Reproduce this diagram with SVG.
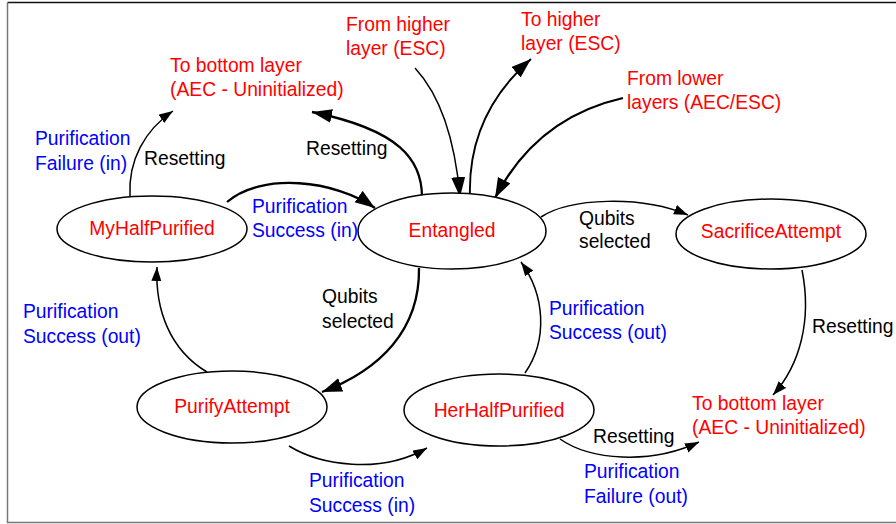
<svg xmlns="http://www.w3.org/2000/svg" width="896" height="524" viewBox="0 0 896 524">
  <style>
    text { font-family: "Liberation Sans", Arial, sans-serif; font-size: 19.3px; }
    .state { fill: #ffffff; stroke: #000000; stroke-width: 1.5; }
    .name { fill: #ff0000; text-anchor: middle; }
    .red { fill: #ff0000; }
    .blue { fill: #0000ff; }
    .black { fill: #000000; }
    .edge { fill: none; stroke: #000000; stroke-width: 1.5; }
    .thick { stroke-width: 2.3; }
    .mid { stroke-width: 1.9; }
    .big { marker-end: url(#headBig); }
    .small { marker-end: url(#headSmall); }
  </style>
  <defs>
    <marker id="headBig" markerUnits="userSpaceOnUse" markerWidth="22" markerHeight="16" refX="20" refY="7" orient="auto">
      <path d="M0,0 L20,7 L0,14 Z" fill="#000000"/>
    </marker>
    <marker id="headSmall" markerUnits="userSpaceOnUse" markerWidth="16" markerHeight="12" refX="14" refY="5" orient="auto">
      <path d="M0,0 L14,5 L0,10 Z" fill="#000000"/>
    </marker>
  </defs>

  <!-- frame -->
  <path d="M896,2.5 H7.5" fill="none" stroke="#111111" stroke-width="1.5"/>
  <path d="M7.5,2.5 V522.5 H896" fill="none" stroke="#777777" stroke-width="1.5"/>

  <!-- transitions -->
  <g id="connectors">
    <path class="edge small" d="M130,196 C128,160 145,130 173,111"/>
    <path class="edge thick big" d="M422,197 C422,160 400,130 312,112"/>
    <path class="edge thick big" d="M227,202 C262,172 335,180 375,208"/>
    <path class="edge big" d="M415,68 C440,95 455,140 460,197"/>
    <path class="edge mid big" d="M470,197 C468,140 490,95 531,59"/>
    <path class="edge thick big" d="M623,98 C570,110 525,140 495,198"/>
    <path class="edge small" d="M541,217 C570,198 640,195 688,215"/>
    <path class="edge thick big" d="M419,268 C420,330 380,370 322,392"/>
    <path class="edge small" d="M207,372 C170,350 155,310 157,267"/>
    <path class="edge small" d="M289,446 C320,465 380,475 427,448"/>
    <path class="edge small" d="M525,373 C548,340 545,295 521,262"/>
    <path class="edge small" d="M802,270 C812,320 800,365 773,395"/>
    <path class="edge small" d="M560,439 C590,460 650,465 699,442"/>
  </g>

  <!-- states -->
  <g id="myHalfPurified">
    <ellipse class="state" cx="152" cy="229" rx="95" ry="33"/>
    <text class="name" x="152" y="235">MyHalfPurified</text>
  </g>
  <g id="entangled">
    <ellipse class="state" cx="452" cy="231" rx="94" ry="38"/>
    <text class="name" x="452" y="237">Entangled</text>
  </g>
  <g id="sacrificeAttempt">
    <ellipse class="state" cx="771" cy="234" rx="95" ry="35"/>
    <text class="name" x="771" y="238">SacrificeAttempt</text>
  </g>
  <g id="purifyAttempt">
    <ellipse class="state" cx="232" cy="407" rx="95" ry="36"/>
    <text class="name" x="232" y="413">PurifyAttempt</text>
  </g>
  <g id="herHalfPurified">
    <ellipse class="state" cx="499" cy="410" rx="95" ry="36"/>
    <text class="name" x="499" y="417">HerHalfPurified</text>
  </g>

  <!-- external endpoints -->
  <g id="bottomLayerTop">
    <text class="red" x="170" y="72">To bottom layer</text>
    <text class="red" x="170" y="96">(AEC - Uninitialized)</text>
  </g>
  <g id="fromHigherLayer">
    <text class="red" x="346" y="31">From higher</text>
    <text class="red" x="346" y="55">layer (ESC)</text>
  </g>
  <g id="toHigherLayer">
    <text class="red" x="521" y="26">To higher</text>
    <text class="red" x="521" y="50">layer (ESC)</text>
  </g>
  <g id="fromLowerLayers">
    <text class="red" x="627" y="85">From lower</text>
    <text class="red" x="627" y="109">layers (AEC/ESC)</text>
  </g>
  <g id="bottomLayerRight">
    <text class="red" x="692" y="410">To bottom layer</text>
    <text class="red" x="692" y="434">(AEC - Uninitialized)</text>
  </g>

  <!-- transition labels -->
  <g id="labels">
    <text class="blue" x="35" y="145">Purification</text>
    <text class="blue" x="35" y="170">Failure (in)</text>
    <text class="black" x="144" y="165">Resetting</text>
    <text class="black" x="306" y="155">Resetting</text>
    <text class="blue" x="252" y="213">Purification</text>
    <text class="blue" x="252" y="237">Success (in)</text>
    <text class="black" x="579" y="225">Qubits</text>
    <text class="black" x="579" y="248">selected</text>
    <text class="black" x="322" y="303">Qubits</text>
    <text class="black" x="322" y="328">selected</text>
    <text class="blue" x="23" y="318">Purification</text>
    <text class="blue" x="23" y="343">Success (out)</text>
    <text class="blue" x="549" y="315">Purification</text>
    <text class="blue" x="549" y="339">Success (out)</text>
    <text class="black" x="812" y="333">Resetting</text>
    <text class="blue" x="309" y="487">Purification</text>
    <text class="blue" x="309" y="512">Success (in)</text>
    <text class="black" x="593" y="443">Resetting</text>
    <text class="blue" x="584" y="478">Purification</text>
    <text class="blue" x="584" y="503">Failure (out)</text>
  </g>
</svg>
